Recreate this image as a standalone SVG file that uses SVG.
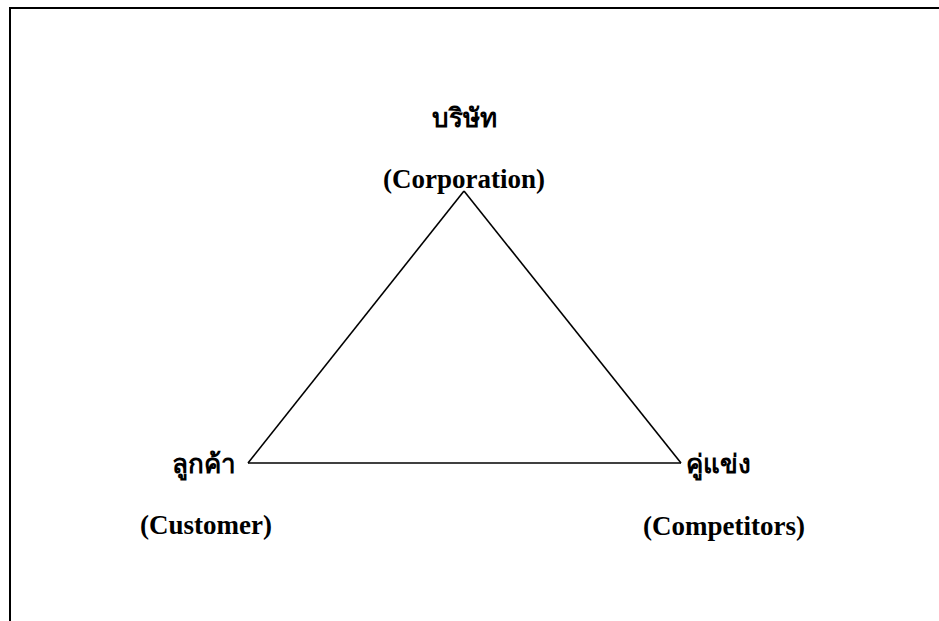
<svg xmlns="http://www.w3.org/2000/svg" width="939" height="621" viewBox="0 0 939 621">
<style>
.en{font-family:"Liberation Serif","Times New Roman",serif;font-weight:bold;font-size:27px;fill:#000;text-anchor:middle}
.th{font-family:"Liberation Serif","Noto Sans",serif;font-weight:bold;font-size:26px;fill:#000;text-anchor:middle}
.edge{fill:none;stroke:#000;stroke-width:1.6}
</style>
<rect width="939" height="621" fill="#fff"/>
<path d="M10,621 V8 H939" fill="none" stroke="#000" stroke-width="2"/>
<g id="connectors">
<line class="edge" x1="464" y1="191" x2="248" y2="463"/>
<line class="edge" x1="464" y1="191" x2="681" y2="463"/>
<line class="edge" x1="248" y1="463" x2="681" y2="463"/>
</g>
<g id="corporation">
<text class="th" x="464" y="127">บริษัท</text>
<text class="en" x="464" y="188">(Corporation)</text>
</g>
<g id="customer">
<text class="th" x="204" y="473">ลูกค้า</text>
<text class="en" x="206" y="534">(Customer)</text>
</g>
<g id="competitors">
<text class="th" x="718" y="473">คู่แข่ง</text>
<text class="en" x="724" y="535">(Competitors)</text>
</g>
</svg>
